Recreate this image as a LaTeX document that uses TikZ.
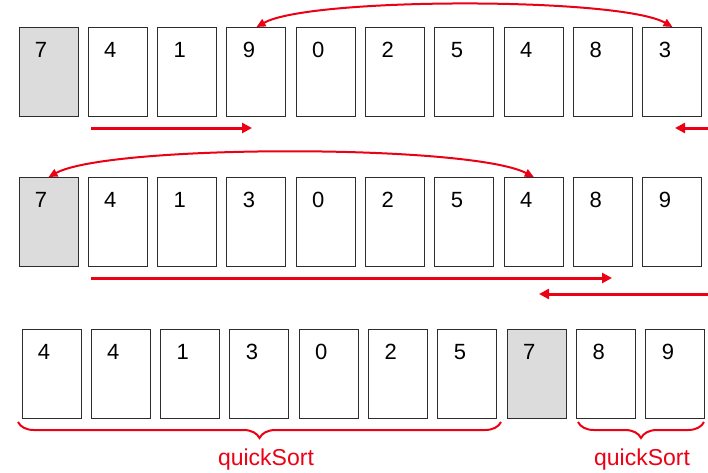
\documentclass[tikz,border=0pt]{standalone}
\usepackage{fontspec}
\setmainfont{Liberation Sans}
\usetikzlibrary{arrows.meta,decorations.pathreplacing,calc}
\definecolor{qred}{RGB}{235,0,20}
\definecolor{qgray}{RGB}{220,220,220}
\definecolor{qedge}{RGB}{45,45,45}
\begin{document}
\begin{tikzpicture}[x=1pt,y=-1pt,
  cell/.style={draw=qedge,line width=1pt,fill=white,minimum width=59pt,minimum height=89pt,inner sep=0pt,outer sep=0pt},
  pivot/.style={cell,fill=qgray},
  num/.style={font=\fontsize{22}{22}\selectfont,inner sep=0pt},
  scan/.style={draw=qred,line width=3pt,-{Triangle[length=10pt,width=10pt]}},
  swap/.style={draw=qred,line width=2pt,{Triangle[length=9pt,width=8pt]}-{Triangle[length=9pt,width=8pt]}},
  brc/.style={draw=qred,line width=2pt,decorate,decoration={brace,mirror,amplitude=16pt}},
  lbl/.style={text=qred,font=\fontsize{23}{23}\selectfont,inner sep=0pt,anchor=base}]
\useasboundingbox (0,0) rectangle (708,472);
% row 1
\foreach \v/\s [count=\i] in {7/pivot,4/cell,1/cell,9/cell,0/cell,2/cell,5/cell,4/cell,8/cell,3/cell} {
  \node[\s] (a\i) at ({48.5+69.33*(\i-1)},71.5) {};
  \node[num] (an\i) at ($(a\i.north west)+(22,23)$) {\v};
}
% row 2
\foreach \v/\s [count=\i] in {7/pivot,4/cell,1/cell,3/cell,0/cell,2/cell,5/cell,4/cell,8/cell,9/cell} {
  \node[\s] (b\i) at ({48.5+69.33*(\i-1)},221.5) {};
  \node[num] (bn\i) at ($(b\i.north west)+(22,23)$) {\v};
}
% row 3
\foreach \v/\s [count=\i] in {4/cell,4/cell,1/cell,3/cell,0/cell,2/cell,5/cell,7/pivot,8/cell,9/cell} {
  \node[\s] (c\i) at ({51.5+69.33*(\i-1)},373.5) {};
  \node[num] (cn\i) at ($(c\i.north west)+(22,23)$) {\v};
}
% swaps
\draw[swap] (a4.north) .. controls (310,-3) and (620,-3) .. (a10.north);
\draw[swap] (b8.north) .. controls (470,144) and (110,144) .. (b1.north);
% scan arrows
\coordinate (l1s) at (91,128);
\coordinate (l1e) at (252,128);
\coordinate (r1s) at (708,128);
\coordinate (r1e) at (675,128);
\coordinate (l2s) at (91,278);
\coordinate (l2e) at (612,278);
\coordinate (r2s) at (708,294);
\coordinate (r2e) at (539,294);
\draw[scan] (l1s) -- (l1e);
\draw[scan] (r1s) -- (r1e);
\draw[scan] (l2s) -- (l2e);
\draw[scan] (r2s) -- (r2e);
% braces
\coordinate (br1a) at (18,422);
\coordinate (br1b) at (501,422);
\coordinate (br2a) at (578,422);
\coordinate (br2b) at (704,422);
\draw[brc] (br1a) -- (br1b);
\draw[brc] (br2a) -- (br2b);
\node[lbl] (q1) at (266,465) {quickSort};
\node[lbl] (q2) at (642,465) {quickSort};
\end{tikzpicture}
\end{document}
